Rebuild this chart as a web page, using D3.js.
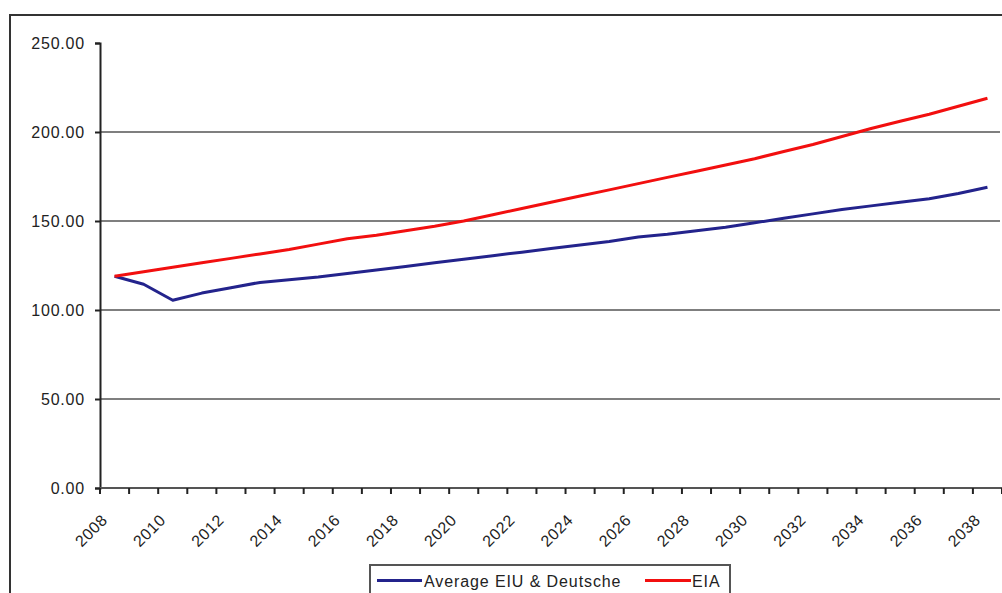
<!DOCTYPE html>
<html>
<head>
<meta charset="utf-8">
<script src="https://cdn.jsdelivr.net/npm/d3@7"></script>
<style>
  html, body { margin: 0; padding: 0; background: #fff; }
  svg { display: block; }
  text { font-family: "Liberation Sans", Arial, sans-serif; fill: #222; }
</style>
</head>
<body>
<svg id="chart" width="1002" height="593"></svg>
<script>
// Years on the category axis
const years = d3.range(2008, 2039).map(String);

// Index values per year
const avgEiuDeutsche = [119, 114.5, 105.5, 109.5, 112.5, 115.5, 117, 118.5, 120.5, 122.5,
  124.5, 126.5, 128.5, 130.5, 132.5, 134.5, 136.5, 138.5, 141, 142.5,
  144.5, 146.5, 149, 151.5, 154, 156.5, 158.5, 160.5, 162.5, 165.5, 169];
const eia = [119, 121.5, 124, 126.5, 129, 131.5, 134, 137, 140, 142,
  144.5, 147, 150, 153.5, 157, 160.5, 164, 167.5, 171, 174.5,
  178, 181.5, 185, 189, 193, 197.5, 202, 206, 210, 214.5, 219];

// Axis ticks
const yTicks = [0, 50, 100, 150, 200, 250];
const gridValues = [50, 100, 150, 200];
const xLabelYears = years.filter((d, i) => i % 2 === 0);

const seriesNames = ["Average EIU & Deutsche", "EIA"];
const seriesColors = ["#23238c", "#f20f0f"];

const svg = d3.select("#chart");

const plot = { left: 100, right: 1002, top: 43, bottom: 488 };

const x = d3.scaleBand().domain(years).range([plot.left, plot.right]).padding(0);
const y = d3.scaleLinear().domain([0, 250]).range([plot.bottom, plot.top]);

// Outer chart frame
svg.append("rect")
  .attr("x", 10).attr("y", 15)
  .attr("width", 1010).attr("height", 600)
  .attr("fill", "none").attr("stroke", "#333").attr("stroke-width", 2);

// Horizontal gridlines
svg.append("g").selectAll("line").data(gridValues).join("line")
  .attr("x1", plot.left).attr("x2", 1000)
  .attr("y1", d => y(d)).attr("y2", d => y(d))
  .attr("stroke", "#7f7f7f").attr("stroke-width", 2);

// Y axis
const yAxis = d3.axisLeft(y).tickValues(yTicks).tickSize(5).tickPadding(10)
  .tickFormat(d3.format(".2f"));
const yg = svg.append("g").attr("transform", `translate(${plot.left},0)`).call(yAxis);
yg.select(".domain").attr("stroke", "#222").attr("stroke-width", 2);
yg.selectAll(".tick line").attr("stroke", "#222").attr("stroke-width", 2);
yg.selectAll(".tick text")
  .attr("font-size", 16).attr("letter-spacing", 0.8)
  .attr("font-family", "Liberation Sans, Arial, sans-serif").attr("fill", "#333");

// X axis: ticks between categories, labels on every other year
const xBounds = years.map(d => x(d)).concat([plot.right]);
const xg = svg.append("g");
xg.append("line")
  .attr("x1", plot.left).attr("x2", plot.right)
  .attr("y1", plot.bottom).attr("y2", plot.bottom)
  .attr("stroke", "#555").attr("stroke-width", 2);
xg.selectAll("line.tick").data(xBounds).join("line").attr("class", "tick")
  .attr("x1", d => d).attr("x2", d => d)
  .attr("y1", plot.bottom).attr("y2", plot.bottom + 6)
  .attr("stroke", "#222").attr("stroke-width", 2);
xg.selectAll("text").data(xLabelYears).join("text")
  .attr("transform", d => `translate(${x(d) + x.bandwidth() / 2 - 6},${plot.bottom + 33}) rotate(-45)`)
  .attr("text-anchor", "end")
  .attr("font-size", 16).attr("letter-spacing", 0.6)
  .attr("fill", "#222")
  .text(d => d);

// Series lines
const line = d3.line()
  .x((d, i) => x(years[i]) + x.bandwidth() / 2)
  .y(d => y(d));

[avgEiuDeutsche, eia].forEach((vals, k) => {
  svg.append("path")
    .datum(vals)
    .attr("d", line)
    .attr("fill", "none")
    .attr("stroke", seriesColors[k])
    .attr("stroke-width", 3)
    .attr("stroke-linejoin", "round");
});

// Legend
const lg = svg.append("g");
lg.append("rect")
  .attr("x", 370).attr("y", 565).attr("width", 360).attr("height", 40)
  .attr("fill", "#fff").attr("stroke", "#555").attr("stroke-width", 2);
const legendItems = [
  { x0: 377, x1: 422, tx: 424 },
  { x0: 645, x1: 691, tx: 692 }
];
legendItems.forEach((it, k) => {
  lg.append("line")
    .attr("x1", it.x0).attr("x2", it.x1)
    .attr("y1", 580.5).attr("y2", 580.5)
    .attr("stroke", seriesColors[k]).attr("stroke-width", 3);
  lg.append("text")
    .attr("x", it.tx).attr("y", 587)
    .attr("font-size", 16).attr("letter-spacing", 0.9)
    .attr("fill", "#222")
    .text(seriesNames[k]);
});
</script>
</body>
</html>
